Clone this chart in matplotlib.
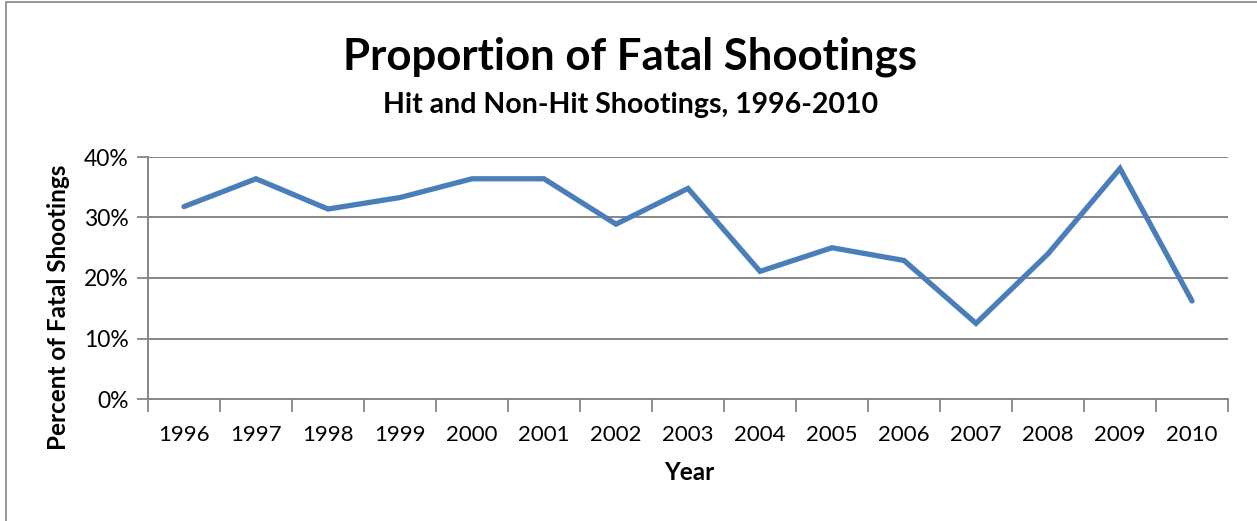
import matplotlib
matplotlib.use("Agg")
import matplotlib.pyplot as plt
from matplotlib.lines import Line2D
from matplotlib.ticker import FixedLocator, NullFormatter

years = ["1996", "1997", "1998", "1999", "2000", "2001", "2002", "2003",
         "2004", "2005", "2006", "2007", "2008", "2009", "2010"]
fatal_pct = [31.8, 36.4, 31.4, 33.3, 36.4, 36.4, 28.9, 34.8,
             21.1, 25.0, 22.9, 12.5, 24.0, 38.1, 16.2]
y_ticks = [0, 10, 20, 30, 40]
y_tick_labels = ["0%", "10%", "20%", "30%", "40%"]

W, H = 1257, 521
fig = plt.figure(figsize=(W / 100, H / 100), dpi=100)
plt.rcParams['font.family'] = ['Lato', 'DejaVu Sans']

# outer frame (only top and left edges visible in the crop)
frame_c = "#8c8c8c"
fig.lines.append(Line2D([6 / W, 6 / W, 1.0], [0.0, 1 - 1.5 / H, 1 - 1.5 / H],
                        transform=fig.transFigure, color=frame_c, linewidth=1.3))

left, right, top, bottom = 148, 1228, 157, 399
ax = fig.add_axes([left / W, 1 - bottom / H, (right - left) / W, (bottom - top) / H])

x = list(range(len(years)))
ax.plot(x, fatal_pct, color="#4a7ebb", linewidth=3.8, solid_joinstyle="miter",
        solid_capstyle="round")

ax.set_xlim(-0.5, len(years) - 0.5)
ax.set_ylim(0, 40)

grid_c = "#868686"
ax.set_yticks(y_ticks)
ax.set_yticklabels(y_tick_labels)
for v in y_ticks[1:]:
    ax.axhline(v, color=grid_c, linewidth=1.4, zorder=0)

ax.xaxis.set_major_locator(FixedLocator([i - 0.5 for i in range(len(years) + 1)]))
ax.xaxis.set_major_formatter(NullFormatter())
ax.xaxis.set_minor_locator(FixedLocator(x))
ax.set_xticklabels(years, minor=True)
ax.tick_params(axis="x", which="major", length=9, width=1.3, color=grid_c, direction="out")
ax.tick_params(axis="x", which="minor", length=0, pad=19, labelsize=16)
ax.tick_params(axis="y", length=8, width=1.3, color=grid_c, direction="out",
               labelsize=16.5, pad=6)

for s in ["top", "right"]:
    ax.spines[s].set_visible(False)
for s in ["left", "bottom"]:
    ax.spines[s].set_color(grid_c)
    ax.spines[s].set_linewidth(1.4)

fig.text(630 / W, 1 - 57 / H, "Proportion of Fatal Shootings", ha="center", va="center",
         fontsize=31.5, fontweight="bold")
fig.text(631 / W, 1 - 105 / H, "Hit and Non-Hit Shootings, 1996-2010", ha="center",
         va="center", fontsize=20.5, fontweight="bold")
fig.text(689 / W, 1 - 473 / H, "Year", ha="center", va="center", fontsize=17.5,
         fontweight="bold")
fig.text(59 / W, 1 - 307 / H, "Percent of Fatal Shootings", ha="center", va="center",
         fontsize=17.5, fontweight="bold", rotation=90)

fig.savefig("out.png", dpi=100)
